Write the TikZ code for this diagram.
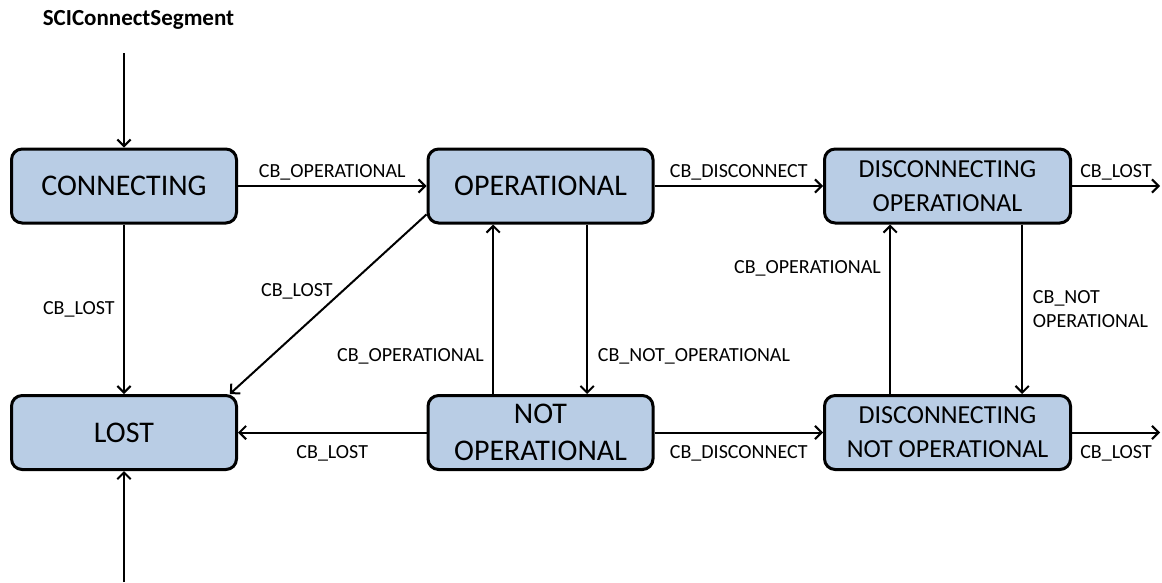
\documentclass[tikz,border=0pt]{standalone}
\usepackage{fontspec}
\setmainfont{Carlito}
\usetikzlibrary{arrows.meta,positioning}
\definecolor{statefill}{HTML}{B9CDE5}
\begin{document}
\begin{tikzpicture}[x=0.75pt,y=-0.75pt,
		statebox/.style={draw, line width=2.25pt, rounded corners=8pt, fill=statefill,
			minimum width=168.75pt, minimum height=55.5pt, align=center, inner sep=2pt,
			font=\fontsize{22.5pt}{27.75pt}\selectfont},
		widebox/.style={statebox, minimum width=184.5pt, font=\fontsize{19.5pt}{25.5pt}\selectfont},
		trans/.style={line width=1.5pt, -{Straight Barb[length=5pt,width=10pt,line width=1.5pt]}},
		lbl/.style={font=\fontsize{15pt}{18pt}\selectfont, align=left}]
		\useasboundingbox (0,0) rectangle (1162,582);
		% states
		\node [font=\fontsize{17.25pt}{20pt}\selectfont\bfseries] (title) at (138.5,20) {SCIConnectSegment};
		\node [statebox] (connecting) at (124,186) {CONNECTING};
		\node [statebox] (operational) at (540.5,186) {OPERATIONAL};
		\node [widebox] (discop) at (947.5,186) {DISCONNECTING\\OPERATIONAL};
		\node [statebox] (lost) at (124,432.5) {LOST};
		\node [statebox] (notop) at (540.5,432.5) {NOT\\OPERATIONAL};
		\node [widebox] (discnotop) at (947.5,432.5) {DISCONNECTING\\NOT OPERATIONAL};
		\coordinate (start) at (124,53);
		\coordinate (entry) at (124,582);
		\coordinate (exitop) at (1160,186);
		\coordinate (exitnotop) at (1160,432.5);
		% transitions
		\draw [trans] (start) -- (connecting);
		\draw [trans] (entry) -- (lost);
		\draw [trans] (connecting) -- (operational) node [lbl, midway, above] {CB\_OPERATIONAL};
		\draw [trans] (operational) -- (discop) node [lbl, midway, above] {CB\_DISCONNECT};
		\draw [trans] (discop) -- (exitop) node [lbl, midway, above] {CB\_LOST};
		\draw [trans] (connecting) -- (lost) node [lbl, midway, left=3pt] {CB\_LOST};
		\draw [trans] (operational.194) -- (lost.20) node [lbl, midway, above left=0pt, xshift=7.5pt] {CB\_LOST};
		\draw [trans] ([xshift=35pt]operational.south) -- ([xshift=35pt]notop.north) node [lbl, pos=0.78, right=4pt] {CB\_NOT\_OPERATIONAL};
		\draw [trans] ([xshift=-35.5pt]notop.north) -- ([xshift=-35.5pt]operational.south) node [lbl, pos=0.22, left=3pt] {CB\_OPERATIONAL};
		\draw [trans] (notop) -- (lost) node [lbl, midway, below=6pt] {CB\_LOST};
		\draw [trans] (notop) -- (discnotop) node [lbl, midway, below=6pt] {CB\_DISCONNECT};
		\draw [trans] (discnotop) -- (exitnotop) node [lbl, midway, below=6pt] {CB\_LOST};
		\draw [trans] ([xshift=56pt]discop.south) -- ([xshift=56pt]discnotop.north) node [lbl, midway, right=4pt] {CB\_NOT\\OPERATIONAL};
		\draw [trans] ([xshift=-43pt]discnotop.north) -- ([xshift=-43pt]discop.south) node [lbl, pos=0.74, left=3pt] {CB\_OPERATIONAL};
	\end{tikzpicture}
\end{document}
